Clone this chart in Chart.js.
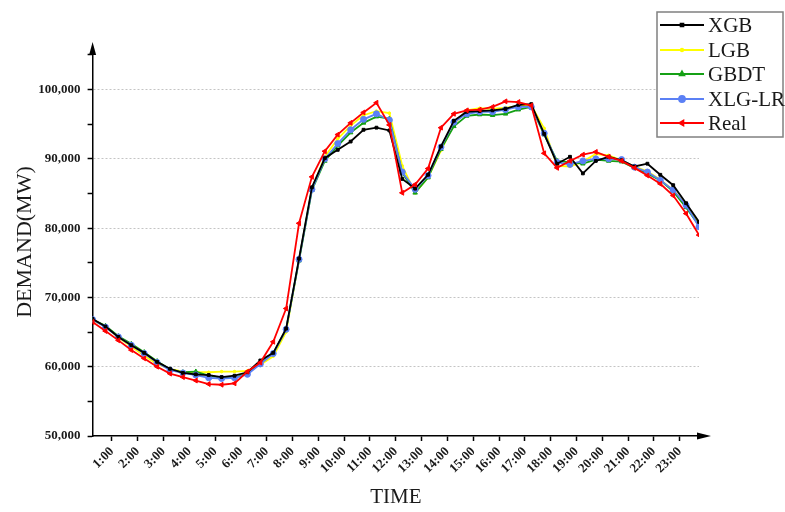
<!DOCTYPE html>
<html>
<head>
<meta charset="utf-8">
<script src="https://cdn.jsdelivr.net/npm/chart.js@4.4.0/dist/chart.umd.min.js"></script>
<style>
  html, body { margin: 0; padding: 0; background: #fff; }
  #wrap { width: 785px; height: 512px; }
</style>
</head>
<body>
<div id="wrap"><canvas id="demandChart"></canvas></div>
<script>
// half-hour sample times, in hours
const times = [0.25, 0.75, 1.25, 1.75, 2.25, 2.75, 3.25, 3.75, 4.25, 4.75, 5.25, 5.75,
    6.25, 6.75, 7.25, 7.75, 8.25, 8.75, 9.25, 9.75, 10.25, 10.75, 11.25, 11.75,
    12.25, 12.75, 13.25, 13.75, 14.25, 14.75, 15.25, 15.75, 16.25, 16.75, 17.25, 17.75,
    18.25, 18.75, 19.25, 19.75, 20.25, 20.75, 21.25, 21.75, 22.25, 22.75, 23.25, 23.75];

const xgb = [66900, 65800, 64300, 63100, 62000, 60700, 59700, 59100, 58900, 58800, 58500, 58700,
    59200, 60900, 62000, 65500, 75600, 85900, 90100, 91300, 92500, 94200, 94500, 94100,
    87100, 85700, 87700, 91800, 95500, 96800, 96900, 97000, 97200, 97800, 97900, 93600,
    89300, 90300, 87900, 89700, 90300, 89800, 88900, 89300, 87700, 86200, 83600, 80900];

const lgb = [66700, 65800, 64200, 62900, 61600, 60400, 59700, 59300, 59200, 59200, 59300, 59300,
    59400, 60300, 61500, 65000, 75500, 85700, 90300, 92900, 94800, 96300, 96900, 96600,
    89000, 85100, 87300, 91200, 95000, 97000, 97300, 97200, 97400, 97600, 97700, 94400,
    89000, 88900, 89600, 90700, 90500, 89800, 88900, 88200, 87000, 85500, 83400, 80500];

const gbdt = [66800, 65900, 64400, 63300, 62100, 60800, 59600, 59200, 59300, 58700, 58400, 58400,
    59000, 60600, 61900, 65400, 75300, 85500, 89700, 91900, 93800, 95200, 96100, 95800,
    88000, 85100, 87300, 91400, 94700, 96200, 96400, 96300, 96500, 97100, 97500, 93500,
    89700, 89500, 89300, 89900, 89700, 89600, 88700, 87900, 86900, 85300, 83000, 80400];

const xlgLr = [66800, 65700, 64300, 63100, 61900, 60600, 59500, 59100, 58800, 58400, 58300, 58400,
    58900, 60400, 61900, 65400, 75500, 85600, 90000, 92200, 94200, 95700, 96500, 95600,
    88100, 85600, 87600, 91700, 95300, 96500, 96800, 96800, 97100, 97500, 97500, 93700,
    89500, 89200, 89700, 90000, 90000, 89900, 88800, 88100, 86900, 85500, 83300, 80200];

const real = [66450, 65150, 63800, 62400, 61200, 60000, 59000, 58500, 58000, 57500, 57400, 57600,
    59300, 60600, 63600, 68400, 80700, 87400, 91100, 93500, 95200, 96700, 98100, 94900,
    85100, 86300, 88600, 94500, 96500, 97000, 97100, 97500, 98300, 98200, 97700, 90800,
    88700, 89700, 90600, 91000, 90300, 89700, 88700, 87600, 86400, 84700, 82100, 79000];

const tickHours = [1, 2, 3, 4, 5, 6, 7, 8, 9, 10, 11, 12, 13, 14, 15, 16, 17, 18, 19, 20, 21, 22, 23];
const tickLabels = ['1:00', '2:00', '3:00', '4:00', '5:00', '6:00', '7:00', '8:00', '9:00', '10:00', '11:00', '12:00',
    '13:00', '14:00', '15:00', '16:00', '17:00', '18:00', '19:00', '20:00', '21:00', '22:00', '23:00'];

// y ticks: labelled majors and the unlabelled minors between them
const yMajor = [50000, 60000, 70000, 80000, 90000, 100000];
const yMinor = [55000, 65000, 75000, 85000, 95000, 105000];
const yGrid = [60000, 70000, 80000, 90000, 100000];

const FONT = "'Liberation Serif', 'Times New Roman', serif";

function makeSeries(label, values, color, style, radius, rotation, order) {
    return {
        label: label,
        data: times.map((t, i) => ({ x: t, y: values[i] })),
        borderColor: color,
        backgroundColor: color,
        borderWidth: 1.8,
        pointStyle: style,
        pointRadius: radius,
        pointRotation: rotation,
        pointBorderWidth: 1,
        tension: 0,
        order: order
    };
}

const datasets = [
    makeSeries('XGB', xgb, '#000000', 'rect', 2, 0, 2),
    makeSeries('LGB', lgb, '#ffff00', 'circle', 1.3, 0, 5),
    makeSeries('GBDT', gbdt, '#15a015', 'triangle', 2.6, 0, 4),
    makeSeries('XLG-LR', xlgLr, '#5b80f5', 'circle', 3, 0, 3),
    makeSeries('Real', real, '#ff0000', 'triangle', 2.8, 270, 1)
];

// axis arrows
const axisArrows = {
    id: 'axisArrows',
    afterDraw(chart) {
        const ctx = chart.ctx;
        const a = chart.chartArea;
        ctx.save();
        ctx.strokeStyle = '#000';
        ctx.fillStyle = '#000';
        ctx.lineWidth = 1.5;
        ctx.beginPath();
        ctx.moveTo(a.left, a.top);
        ctx.lineTo(a.left, 52);
        ctx.moveTo(a.right, a.bottom);
        ctx.lineTo(700, a.bottom);
        ctx.stroke();
        ctx.beginPath();
        ctx.moveTo(a.left, 42);
        ctx.lineTo(a.left - 3.5, 55);
        ctx.lineTo(a.left + 3.5, 55);
        ctx.closePath();
        ctx.fill();
        ctx.beginPath();
        ctx.moveTo(711, a.bottom);
        ctx.lineTo(697, a.bottom - 3.5);
        ctx.lineTo(697, a.bottom + 3.5);
        ctx.closePath();
        ctx.fill();
        ctx.restore();
    }
};

// boxed legend, top right
const boxLegend = {
    id: 'boxLegend',
    afterDraw(chart) {
        const ctx = chart.ctx;
        ctx.save();
        ctx.fillStyle = '#fff';
        ctx.fillRect(657, 12, 126, 125);
        ctx.strokeStyle = '#808080';
        ctx.lineWidth = 1.5;
        ctx.strokeRect(657, 12, 126, 125);
        const rows = [25, 50, 74, 99, 123];
        chart.data.datasets.forEach((ds, i) => {
            const y = rows[i];
            ctx.strokeStyle = ds.borderColor;
            ctx.fillStyle = ds.borderColor;
            ctx.lineWidth = 1.8;
            ctx.beginPath();
            ctx.moveTo(660, y);
            ctx.lineTo(704, y);
            ctx.stroke();
            Chart.helpers.drawPoint(ctx, {
                pointStyle: ds.pointStyle,
                radius: ds.pointRadius,
                rotation: ds.pointRotation,
                borderWidth: 1
            }, 682, y);
            ctx.fillStyle = '#1a1a1a';
            ctx.font = '21px ' + FONT;
            ctx.textBaseline = 'middle';
            ctx.fillText(ds.label, 708, y + 1);
        });
        ctx.restore();
    }
};

new Chart(document.getElementById('demandChart'), {
    type: 'line',
    data: { datasets: datasets },
    plugins: [axisArrows, boxLegend],
    options: {
        responsive: true,
        maintainAspectRatio: false,
        animation: false,
        layout: { padding: { top: 48, right: 86, bottom: 0, left: 0 } },
        plugins: {
            legend: { display: false },
            tooltip: { enabled: false }
        },
        scales: {
            x: {
                type: 'linear',
                min: 0.25,
                max: 23.75,
                afterBuildTicks: (scale) => {
                    scale.ticks = tickHours.map(v => ({ value: v }));
                },
                afterFit: (scale) => { scale.height = 76; },
                ticks: {
                    autoSkip: false,
                    maxRotation: 45,
                    minRotation: 45,
                    padding: 3,
                    color: '#1a1a1a',
                    font: { family: FONT, size: 13, weight: 'bold' },
                    callback: (v) => tickLabels[tickHours.indexOf(v)]
                },
                grid: {
                    drawOnChartArea: false,
                    drawTicks: true,
                    tickLength: 5,
                    tickColor: '#000',
                    tickWidth: 1.5
                },
                border: { color: '#000', width: 1.5 },
                title: {
                    display: true,
                    text: 'TIME',
                    color: '#1a1a1a',
                    font: { family: FONT, size: 21 },
                    padding: { top: 0, bottom: 2 }
                }
            },
            y: {
                min: 50000,
                max: 106000,
                afterBuildTicks: (scale) => {
                    scale.ticks = yMajor.concat(yMinor).sort((a, b) => a - b).map(v => ({ value: v }));
                },
                afterFit: (scale) => { scale.width = 92.6; },
                ticks: {
                    autoSkip: false,
                    padding: 7,
                    color: '#1a1a1a',
                    font: { family: FONT, size: 13, weight: 'bold' },
                    callback: (v) => yMajor.includes(v) ? v.toLocaleString('en-US') : ''
                },
                grid: {
                    color: (c) => (c.tick && yGrid.includes(c.tick.value)) ? '#c4c4c4' : 'rgba(0,0,0,0)',
                    lineWidth: 1,
                    drawTicks: true,
                    tickLength: 5,
                    tickColor: '#000',
                    tickWidth: 1.5
                },
                border: { color: '#000', width: 1.5, dash: [2, 2] },
                title: {
                    display: true,
                    text: 'DEMAND(MW)',
                    color: '#1a1a1a',
                    font: { family: FONT, size: 22 },
                    padding: { top: 12, bottom: 0 }
                }
            }
        }
    }
});
</script>
</body>
</html>
